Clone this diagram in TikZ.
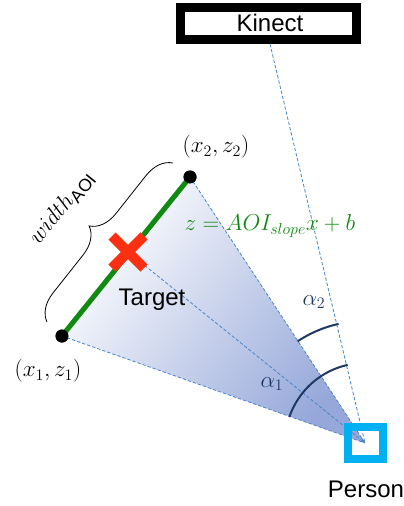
\documentclass[tikz,border=0pt]{standalone}
\usepackage{fontspec}
\setmainfont{Liberation Sans}
\usetikzlibrary{decorations.pathreplacing,arrows.meta}
\definecolor{aoigreen}{RGB}{16,138,16}
\definecolor{xred}{RGB}{250,48,18}
\definecolor{navy}{RGB}{31,56,100}
\definecolor{dashblue}{RGB}{72,132,200}
\definecolor{pcyan}{RGB}{0,176,240}
\definecolor{gradblue}{RGB}{150,168,218}
\begin{document}
\begin{tikzpicture}[x=0.75pt,y=-0.75pt,
  dashline/.style={draw=dashblue,line width=0.6pt,dash pattern=on 2.5pt off 1.5pt},
  sanslbl/.style={font=\fontsize{18}{20}\selectfont,inner sep=0pt},
  mathlbl/.style={font=\fontsize{18.8}{22}\selectfont,inner sep=0pt},
  dot/.style={circle,fill=black,minimum size=9.75pt,inner sep=0pt},
  anglearc/.style={draw=navy,line width=1.5pt}]
\useasboundingbox (0,0) rectangle (403,506);
% key points
\coordinate (apex) at (365,443);
\node[dot] (p1) at (62,336) {};
\node[dot] (p2) at (190,177) {};
\coordinate (tgt) at (128,252);
\coordinate (kin) at (270,44);
% gradient triangle
\shade[left color=white,right color=gradblue,shading angle=52]
  (p1.center) -- (p2.center) -- (apex) -- cycle;
% dashed lines
\draw[dashline] (p1.center) -- (apex);
\draw[dashline] (p2.center) -- (apex);
\draw[dashline,-{Stealth[length=4pt,width=3pt]}] (tgt) -- (apex);
\draw[dashline] (kin) -- (apex);
% green AOI line
\draw[aoigreen,line width=3.8pt] (p1.center) -- (p2.center);
\node[dot] at (p1) {};
\node[dot] at (p2) {};
% red X
\draw[xred,line width=7.5pt] (112,236) -- (144,268);
\draw[xred,line width=7.5pt] (112,268) -- (144,236);
% Kinect box
\draw[black,line width=6.75pt] (180.5,7.5) rectangle (356.5,39.5);
\node[sanslbl,anchor=base] (kinect) at (270,32) {Kinect};
% Person box
\draw[pcyan,line width=6pt] (348,427) rectangle (383,459);
\node[sanslbl,anchor=base] (person) at (366,497) {Person};
\node[sanslbl,anchor=base] (target) at (152,305) {Target};
% angle arcs
\draw[anglearc] plot[domain=-123.5:-102.5,samples=40] ({365+122*cos(\x)},{443+122*sin(\x)});
\draw[anglearc] plot[domain=-161:-102.5,samples=50] ({365+80*cos(\x)},{443+80*sin(\x)});
\node[mathlbl,text=navy] (a2) at (314,302) {$\alpha_2$};
\node[mathlbl,text=navy] (a1) at (272,384) {$\alpha_1$};
% labels
\node[mathlbl] (l2) at (216,147) {$(x_2,z_2)$};
\node[mathlbl] (l1) at (48,371) {$(x_1,z_1)$};
\node[mathlbl,text=aoigreen] (eq) at (270,226) {$z=AOI_{slope}x+b$};
% brace
\draw[decorate,decoration={brace,amplitude=20pt},line width=0.6pt] (47,322) -- (173,163);
\node[mathlbl,rotate=51] (w) at (62,208) {$width_{\mathrm{AOI}}$};
\end{tikzpicture}
\end{document}
